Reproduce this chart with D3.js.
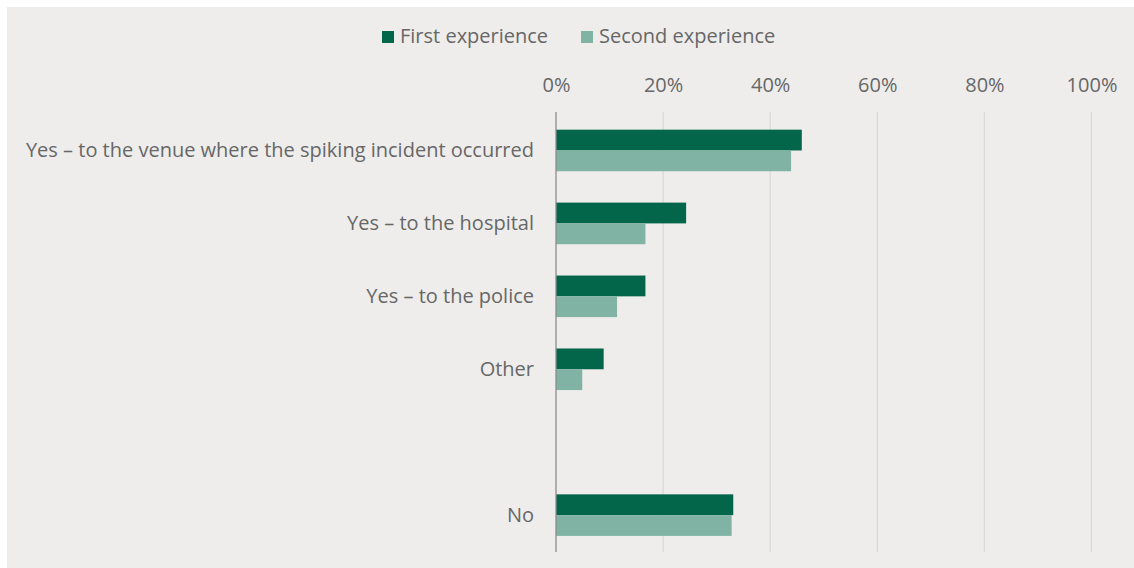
<!DOCTYPE html>
<html>
<head>
<meta charset="utf-8">
<script src="https://cdn.jsdelivr.net/npm/d3@7"></script>
<style>
  html, body { margin: 0; padding: 0; background: #ffffff; }
  svg { display: block; }
  text { font-family: "Open Sans", "Noto Sans", sans-serif; fill: #676767; }
</style>
</head>
<body>
<svg id="chart" width="1134" height="568"></svg>
<script>
// Categories (the empty entry leaves a gap before "No")
const categories = [
  "Yes – to the venue where the spiking incident occurred",
  "Yes – to the hospital",
  "Yes – to the police",
  "Other",
  "",
  "No"
];
const seriesNames = ["First experience", "Second experience"];
const firstExperience  = [45.9, 24.3, 16.7, 8.9, null, 33.1];
const secondExperience = [43.9, 16.7, 11.4, 4.9, null, 32.8];
const tickValues = [0, 20, 40, 60, 80, 100];
const colors = ["#03664a", "#80b3a3"];

const svg = d3.select("#chart");
const fontSize = "20px";

// Panel background
svg.append("rect")
  .attr("x", 7).attr("y", 7)
  .attr("width", 1127).attr("height", 561)
  .attr("fill", "#eeedeb");

const x = d3.scaleLinear().domain([0, 100]).range([556, 1091.5]);
const y = d3.scaleBand()
  .domain(d3.range(categories.length))
  .range([114, 551.6])
  .paddingInner(0.43)
  .paddingOuter(0.215);
const sub = d3.scaleBand().domain([0, 1]).range([0, y.bandwidth()]);

const gridTop = 112, gridBottom = 552;

// Vertical gridlines
svg.append("g").selectAll("line")
  .data(tickValues.filter(v => v > 0))
  .join("line")
  .attr("x1", d => x(d)).attr("x2", d => x(d))
  .attr("y1", gridTop).attr("y2", gridBottom)
  .attr("stroke", "#d9d9d9").attr("stroke-width", 1.3);

// Top axis labels
const axis = svg.append("g")
  .attr("transform", `translate(0,${gridTop})`)
  .call(d3.axisTop(x).tickValues(tickValues).tickFormat(d => d + "%").tickSize(0).tickPadding(20));
axis.select(".domain").remove();
axis.selectAll("text")
  .style("font-size", fontSize)
  .attr("fill", "#676767");

// Bars
const rows = categories.map((c, i) => ({ i, values: [firstExperience[i], secondExperience[i]] }));
const groups = svg.append("g").selectAll("g")
  .data(rows.filter(r => r.values[0] != null))
  .join("g")
  .attr("transform", d => `translate(0,${y(d.i)})`);
groups.selectAll("rect")
  .data(d => d.values.map((v, k) => ({ v, k })))
  .join("rect")
  .attr("x", x(0))
  .attr("y", d => sub(d.k))
  .attr("width", d => x(d.v) - x(0))
  .attr("height", sub.bandwidth())
  .attr("fill", d => colors[d.k]);

// Category axis line
svg.append("line")
  .attr("x1", x(0)).attr("x2", x(0))
  .attr("y1", gridTop).attr("y2", gridBottom)
  .attr("stroke", "#8c8c8c").attr("stroke-width", 1.3);

// Category labels
svg.append("g").selectAll("text")
  .data(categories.map((c, i) => ({ c, i })).filter(d => d.c))
  .join("text")
  .attr("x", 534)
  .attr("y", d => y(d.i) + y.bandwidth() / 2)
  .attr("dy", "0.35em")
  .attr("text-anchor", "end")
  .style("font-size", fontSize)
  .text(d => d.c);

// Legend
const legendX = [382, 581];
const legend = svg.append("g").selectAll("g")
  .data(seriesNames)
  .join("g")
  .attr("transform", (d, k) => `translate(${legendX[k]},31)`);
legend.append("rect")
  .attr("width", 12).attr("height", 12)
  .attr("fill", (d, k) => colors[k]);
legend.append("text")
  .attr("x", 18).attr("y", 12)
  .style("font-size", fontSize)
  .text(d => d);
</script>
</body>
</html>
